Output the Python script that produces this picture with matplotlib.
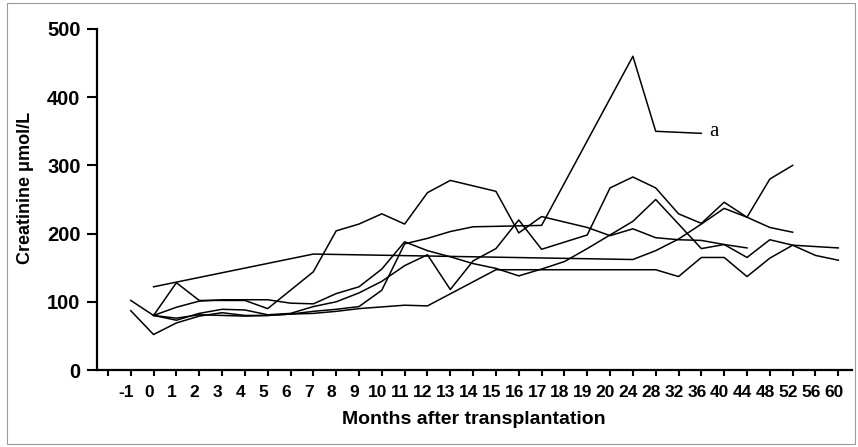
import matplotlib
matplotlib.use("Agg")
import matplotlib.pyplot as plt
from matplotlib.patches import Rectangle
from matplotlib.transforms import ScaledTranslation

# category axis: months after transplantation
MONTHS = list(range(-1, 21)) + list(range(24, 61, 4))

# one line per patient (month, creatinine umol/L)
p1_months = [0, 1, 2, 3, 4, 5, 7, 8, 9, 10, 11, 12, 13, 14, 15, 16, 17, 19, 20, 24, 28, 32, 36, 40, 44]
p1_vals = [80, 128, 102, 102, 102, 90, 144, 204, 214, 229, 214, 260, 278, 270, 262, 201, 225, 209, 197, 207, 194, 191, 190, 184, 179]

p2_months = [0, 7, 24, 28, 32, 36, 40, 44, 48, 52]
p2_vals = [122, 170, 162, 175, 192, 214, 237, 224, 209, 202]

p3_months = [-1, 0, 1, 2, 3, 4, 5, 6, 7, 8, 9, 10, 11, 12, 13, 14, 17, 24, 28, 36]
p3_vals = [87, 52, 69, 79, 84, 80, 80, 82, 86, 89, 93, 117, 185, 193, 203, 210, 212, 460, 350, 347]

p4_months = [-1, 0, 1, 2, 3, 4, 5, 6, 7, 8, 9, 10, 11, 12, 13, 14, 15, 16, 17, 19, 20, 24, 28, 32, 36, 40, 44, 48, 52]
p4_vals = [102, 80, 73, 83, 89, 88, 81, 83, 93, 100, 113, 130, 153, 169, 118, 160, 178, 220, 177, 198, 267, 283, 267, 229, 215, 246, 224, 280, 300]

p5_months = [0, 1, 2, 3, 4, 5, 6, 7, 8, 9, 10, 11, 12, 13, 14, 15, 16, 17, 18, 19, 20, 24, 28, 32, 36, 40, 44, 48, 52, 56, 60]
p5_vals = [80, 92, 101, 103, 103, 103, 98, 97, 112, 122, 148, 188, 175, 166, 156, 149, 138, 148, 159, 178, 198, 218, 250, 214, 178, 184, 165, 191, 183, 168, 161]

p6_months = [0, 1, 2, 3, 4, 5, 6, 7, 8, 9, 11, 12, 15, 28, 32, 36, 40, 44, 48, 52, 56, 60]
p6_vals = [80, 76, 81, 80, 79, 80, 82, 83, 86, 90, 95, 94, 147, 147, 137, 165, 165, 137, 164, 183, 181, 179]

patients = [(p1_months, p1_vals), (p2_months, p2_vals), (p3_months, p3_vals),
            (p4_months, p4_vals), (p5_months, p5_vals), (p6_months, p6_vals)]

FONT = ["Liberation Sans", "DejaVu Sans"]

fig = plt.figure(figsize=(8.58, 4.47), dpi=100, facecolor="white")
ax = fig.add_axes([96.5 / 858, 1 - 370 / 447, (852 - 96.5) / 858, (370 - 29) / 447])

for months, vals in patients:
    xs = [MONTHS.index(m) for m in months]
    ax.plot(xs, vals, color="black", lw=1.1)

ax.text(25.35, 350, "a", fontsize=15, family="Liberation Serif", va="center", ha="left")

ax.set_ylim(0, 500)
ax.set_xlim(-1.5, 31.6)
ax.set_yticks([0, 100, 200, 300, 400, 500])
ax.set_xticks(range(-1, len(MONTHS)))
ax.set_xticklabels([""] + [str(m) for m in MONTHS])

for s in ["top", "right"]:
    ax.spines[s].set_visible(False)
for s in ["left", "bottom"]:
    ax.spines[s].set_linewidth(1.6)

ax.tick_params(axis="x", direction="out", length=4.5, width=1.5, pad=6)
ax.tick_params(axis="y", direction="out", length=7.5, width=1.5, pad=4)
shift = ScaledTranslation(-4.5 / 100, 0, fig.dpi_scale_trans)
for lab in ax.get_xticklabels():
    lab.set_fontfamily(FONT)
    lab.set_fontweight("bold")
    lab.set_fontsize(12.5)
    lab.set_transform(lab.get_transform() + shift)
for lab in ax.get_yticklabels():
    lab.set_fontfamily(FONT)
    lab.set_fontweight("bold")
    lab.set_fontsize(14.5)

ax.set_xlabel("Months after transplantation", fontsize=14, fontweight="bold",
              family=FONT, labelpad=8)
ax.set_ylabel("Creatinine μmol/L", fontsize=13, fontweight="bold",
              family=FONT, labelpad=9)
ax.yaxis.set_label_coords(-0.083, 0.535)

# thin grey frame round the whole picture
fig.patches.append(Rectangle((7 / 858, 3 / 447), 848 / 858, 441 / 447,
                             transform=fig.transFigure, fill=False,
                             edgecolor="#9a9a9a", lw=0.8))

fig.savefig("out.png", dpi=100, facecolor="white")
